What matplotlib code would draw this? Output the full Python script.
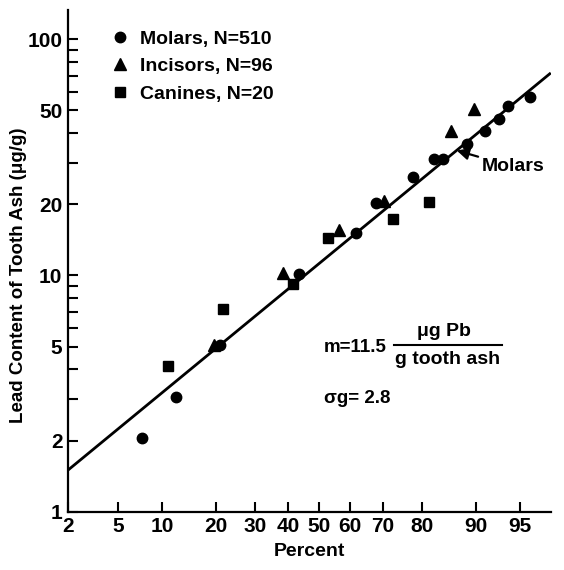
from statistics import NormalDist

import matplotlib
matplotlib.use("Agg")
import matplotlib.pyplot as plt
import numpy as np
from matplotlib.ticker import FixedLocator, FuncFormatter, NullLocator

# data
molar_pct = [7.4, 12.1, 21.0, 43.6, 62.0, 68.0, 77.9, 82.6, 84.4, 88.7, 91.3, 92.9, 93.9, 95.8]
molar_val = [2.05, 3.05, 5.1, 10.1, 15.1, 20.3, 26.0, 31.0, 31.0, 36.0, 41.0, 46.0, 52.0, 57.0]
incisor_pct = [19.6, 38.3, 56.4, 70.1, 85.9, 89.7]
incisor_val = [5.1, 10.2, 15.5, 20.6, 40.8, 50.5]
canine_pct = [10.8, 21.5, 41.7, 52.9, 72.6, 81.6]
canine_val = [4.15, 7.2, 9.2, 14.4, 17.3, 20.4]
fit_pct = [2.0, 97.1]
fit_val = [1.5, 72.0]

x_ticks = [2, 5, 10, 20, 30, 40, 50, 60, 70, 80, 90, 95]
y_major = [1, 2, 5, 10, 20, 50, 100]
y_minor = [3, 4, 6, 7, 8, 9, 30, 40, 60, 70, 80, 90]

plt.rcParams["font.family"] = ["Liberation Sans", "DejaVu Sans"]
plt.rcParams["font.weight"] = "bold"
plt.rcParams["axes.labelweight"] = "bold"
plt.rcParams["font.size"] = 14

nd = NormalDist()
_ppf = np.vectorize(nd.inv_cdf, otypes=[float])
_cdf = np.vectorize(nd.cdf, otypes=[float])


def probit(p):
    p = np.clip(np.asarray(p, dtype=float) / 100.0, 1e-6, 1 - 1e-6)
    return _ppf(p)


def probit_inv(z):
    return 100.0 * _cdf(np.asarray(z, dtype=float))


fig = plt.figure(figsize=(5.64, 5.70), dpi=100)
ax = fig.add_axes([0.1206, 0.1023, 0.856, 0.8802])
ax.set_xscale("function", functions=(probit, probit_inv))
ax.set_yscale("log")
ax.set_xlim(2, 97.1)
ax.set_ylim(1, 133)

ax.plot(fit_pct, fit_val, color="black", lw=2.0, solid_capstyle="butt")
ax.plot(molar_pct, molar_val, "o", color="black", ms=7.5, ls="none", label="Molars, N=510")
ax.plot(incisor_pct, incisor_val, "^", color="black", ms=8, ls="none", label="Incisors, N=96")
ax.plot(canine_pct, canine_val, "s", color="black", ms=7.5, ls="none", label="Canines, N=20")

ax.xaxis.set_major_locator(FixedLocator(x_ticks))
ax.xaxis.set_minor_locator(NullLocator())
ax.xaxis.set_major_formatter(FuncFormatter(lambda v, _: f"{v:g}"))
ax.yaxis.set_major_locator(FixedLocator(y_major))
ax.yaxis.set_minor_locator(FixedLocator(y_minor))
ax.yaxis.set_major_formatter(FuncFormatter(lambda v, _: f"{v:g}"))
ax.yaxis.set_minor_formatter(FuncFormatter(lambda v, _: ""))

for side in ("top", "right"):
    ax.spines[side].set_visible(False)
for side in ("left", "bottom"):
    ax.spines[side].set_linewidth(1.6)
ax.tick_params(which="both", direction="in", length=7, width=1.5, labelsize=15)
ax.tick_params(axis="x", pad=4)
ax.tick_params(axis="y", pad=4)

ax.set_xlabel("Percent", fontsize=14)
ax.xaxis.set_label_coords(0.5, -0.062)
ax.set_ylabel("Lead Content of Tooth Ash (μg/g)", fontsize=13.5)
ax.yaxis.set_label_coords(-0.085, 0.472)

ax.legend(loc="upper left", bbox_to_anchor=(0.075, 0.975), frameon=False,
          handlelength=0.8, handletextpad=0.63, labelspacing=0.5,
          borderaxespad=0, fontsize=14)

ax.annotate("Molars", xy=(87.0, 33.8), xytext=(90.9, 28.8), va="center", ha="left",
            arrowprops=dict(arrowstyle="-|>,head_length=0.5,head_width=0.25",
                            color="black", lw=1.6, shrinkA=1, shrinkB=0))

ax.text(0.53, 0.328, "m=11.5", transform=ax.transAxes, ha="left", va="center", fontsize=13.5)
ax.text(0.778, 0.359, "μg Pb", transform=ax.transAxes, ha="center", va="center")
ax.text(0.786, 0.304, "g tooth ash", transform=ax.transAxes, ha="center", va="center")
ax.plot([0.676, 0.898], [0.332, 0.332], color="black", lw=1.5, transform=ax.transAxes)
ax.text(0.53, 0.226, "σg= 2.8", transform=ax.transAxes, ha="left", va="center", fontsize=13.5)

fig.savefig("out.png", dpi=100)
